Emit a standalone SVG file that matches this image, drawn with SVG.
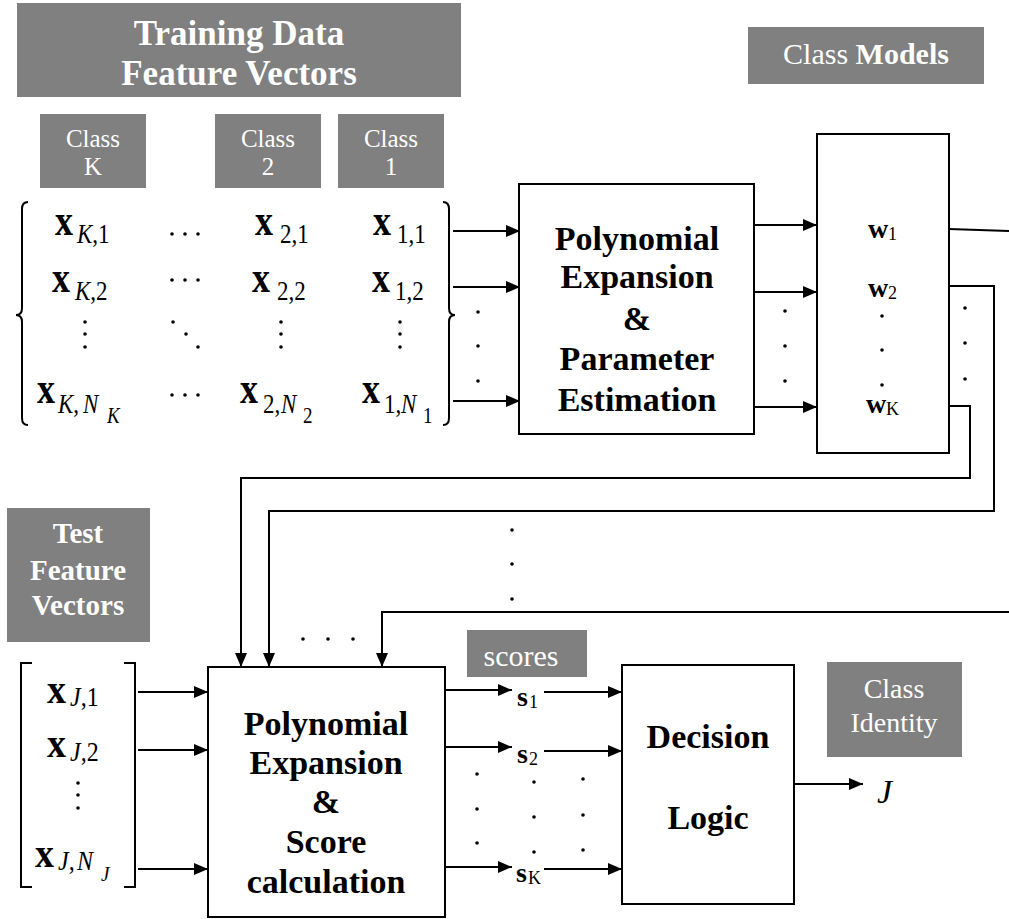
<svg xmlns="http://www.w3.org/2000/svg" width="1009" height="919" viewBox="0 0 1009 919" font-family="'Liberation Serif', 'Times New Roman', Tinos, 'DejaVu Serif', serif">
<style>
text{font-family:"Liberation Serif","Times New Roman",Tinos,"DejaVu Serif",serif;fill:#000}
.lbl{fill:#ffffff}
.gray{fill:#808080}
.box{fill:#fff;stroke:#000;stroke-width:2}
.b{font-weight:bold}
.it{font-style:italic}
.big{font-size:34px;font-weight:bold;text-anchor:middle}
.ln{fill:none;stroke:#000;stroke-width:2}
.ar{fill:none;stroke:#000;stroke-width:2;marker-end:url(#ah)}
.mx{font-size:36px;font-weight:bold}
.ms{font-size:23px}
.mss{font-size:19px}
.tx{font-size:38px;font-weight:bold}
.ts{font-size:24px}
.tss{font-size:19px}
</style>
<defs>
<marker id="ah" markerUnits="userSpaceOnUse" markerWidth="14" markerHeight="12" refX="14" refY="6" orient="auto"><path d="M0,0 L14,6 L0,12 z" fill="#000"/></marker>
</defs>
<rect width="1009" height="919" fill="#fff"/>

<g id="training-label">
<rect class="gray" x="17" y="3" width="444" height="94"/>
<text class="lbl b" x="239" y="45" font-size="35" text-anchor="middle">Training Data</text>
<text class="lbl b" x="239" y="85" font-size="35" text-anchor="middle">Feature Vectors</text>
</g>
<g id="class-models-label">
<rect class="gray" x="748" y="27" width="236" height="57"/>
<text class="lbl" x="866" y="64" font-size="30" text-anchor="middle">Class <tspan class="b">Models</tspan></text>
</g>
<g id="class-k-label">
<rect class="gray" x="40" y="114" width="106" height="74"/>
<text class="lbl" x="93" y="147" font-size="25" text-anchor="middle">Class</text>
<text class="lbl" x="93" y="175" font-size="25" text-anchor="middle">K</text>
</g>
<g id="class-2-label">
<rect class="gray" x="215" y="114" width="106" height="74"/>
<text class="lbl" x="268" y="147" font-size="25" text-anchor="middle">Class</text>
<text class="lbl" x="268" y="175" font-size="25" text-anchor="middle">2</text>
</g>
<g id="class-1-label">
<rect class="gray" x="338" y="114" width="106" height="74"/>
<text class="lbl" x="391" y="147" font-size="25" text-anchor="middle">Class</text>
<text class="lbl" x="391" y="175" font-size="25" text-anchor="middle">1</text>
</g>

<g id="training-matrix">
<path class="ln" stroke-width="1.5" d="M28,202 Q22,202 22,209 L22,308 Q22,315 16,315 Q22,315 22,322 L22,418 Q22,425 28,425"/>
<path class="ln" stroke-width="1.5" d="M443,202 Q449,202 449,209 L449,308 Q449,315 455,315 Q449,315 449,322 L449,418 Q449,425 443,425"/>
<g transform="translate(0,235) scale(1,1.22)">
<text class="mx" x="55" y="0">x</text><text class="ms" x="77" y="6.5"><tspan class="it">K</tspan>,1</text>
<text class="mx" x="255" y="0">x</text><text class="ms" x="280" y="6.5">2,1</text>
<text class="mx" x="373" y="0">x</text><text class="ms" x="397" y="6.5">1,1</text>
</g>
<g transform="translate(0,292) scale(1,1.22)">
<text class="mx" x="52" y="0">x</text><text class="ms" x="75" y="6.5"><tspan class="it">K</tspan>,2</text>
<text class="mx" x="252" y="0">x</text><text class="ms" x="277" y="6.5">2,2</text>
<text class="mx" x="372" y="0">x</text><text class="ms" x="395" y="6.5">1,2</text>
</g>
<g transform="translate(0,403) scale(1,1.22)">
<text class="mx" x="37" y="0">x</text><text class="ms" x="58" y="8.2"><tspan class="it">K</tspan>,</text><text class="ms it" x="83" y="8.2">N</text><text class="mss it" x="107" y="16">K</text>
<text class="mx" x="240" y="0">x</text><text class="ms" x="263" y="8.2">2,</text><text class="ms it" x="281" y="8.2">N</text><text class="mss" x="303" y="16">2</text>
<text class="mx" x="362" y="0">x</text><text class="ms" x="384" y="8.2">1,</text><text class="ms it" x="401" y="8.2">N</text><text class="mss" x="423" y="16">1</text>
</g>
<g fill="#000">
<circle cx="172" cy="234" r="1.8"/><circle cx="185" cy="234" r="1.8"/><circle cx="198" cy="234" r="1.8"/>
<circle cx="172" cy="280" r="1.8"/><circle cx="185" cy="280" r="1.8"/><circle cx="198" cy="280" r="1.8"/>
<circle cx="172" cy="395" r="1.8"/><circle cx="185" cy="395" r="1.8"/><circle cx="198" cy="395" r="1.8"/>
<circle cx="85" cy="322" r="1.8"/><circle cx="85" cy="334" r="1.8"/><circle cx="85" cy="347" r="1.8"/>
<circle cx="281" cy="322" r="1.8"/><circle cx="281" cy="334" r="1.8"/><circle cx="281" cy="347" r="1.8"/>
<circle cx="400" cy="322" r="1.8"/><circle cx="400" cy="334" r="1.8"/><circle cx="400" cy="347" r="1.8"/>
<circle cx="173" cy="322" r="1.8"/><circle cx="186" cy="334" r="1.8"/><circle cx="198" cy="347" r="1.8"/>
</g>
</g>

<g id="poly-param">
<rect class="box" x="519" y="184" width="235" height="250"/>
<text class="big" x="637" y="250">Polynomial</text>
<text class="big" x="637" y="288">Expansion</text>
<text class="big" x="637" y="330">&amp;</text>
<text class="big" x="637" y="370">Parameter</text>
<text class="big" x="637" y="411">Estimation</text>
</g>

<g id="class-models">
<rect class="box" x="817" y="134" width="132" height="319"/>
<text x="868" y="238" font-size="28" class="b">w</text><text x="888" y="240" font-size="18">1</text>
<text x="868" y="297" font-size="28" class="b">w</text><text x="888" y="299" font-size="18">2</text>
<text x="866" y="413" font-size="28" class="b">w</text><text x="886" y="415" font-size="18">K</text>
<g fill="#000"><circle cx="882" cy="316" r="1.8"/><circle cx="882" cy="350" r="1.8"/><circle cx="882" cy="385" r="1.8"/></g>
</g>

<g id="test-label">
<rect class="gray" x="7" y="508" width="143" height="134"/>
<text class="lbl b" x="78" y="543" font-size="29" text-anchor="middle">Test</text>
<text class="lbl b" x="78" y="580" font-size="29" text-anchor="middle">Feature</text>
<text class="lbl b" x="78" y="615" font-size="29" text-anchor="middle">Vectors</text>
</g>

<g id="test-matrix">
<path class="ln" stroke-width="1.5" d="M32,663 L21,663 L21,887 L32,887"/>
<path class="ln" stroke-width="1.5" d="M124,663 L135,663 L135,887 L124,887"/>
<g transform="translate(0,703) scale(1,1.1)">
<text class="tx" x="47" y="0">x</text><text class="ts" x="70" y="3"><tspan class="it">J</tspan>,1</text>
</g>
<g transform="translate(0,757) scale(1,1.1)">
<text class="tx" x="47" y="0">x</text><text class="ts" x="70" y="4"><tspan class="it">J</tspan>,2</text>
</g>
<g transform="translate(0,867) scale(1,1.1)">
<text class="tx" x="35" y="0">x</text><text class="ts" x="58" y="3"><tspan class="it">J</tspan>,</text><text class="ts it" x="77" y="3">N</text><text class="tss it" x="101" y="13">J</text>
</g>
<g fill="#000"><circle cx="78" cy="783" r="1.8"/><circle cx="78" cy="795" r="1.8"/><circle cx="78" cy="808" r="1.8"/></g>
</g>

<g id="poly-score">
<rect class="box" x="208" y="667" width="237" height="250"/>
<text class="big" x="326" y="735">Polynomial</text>
<text class="big" x="326" y="774">Expansion</text>
<text class="big" x="326" y="813">&amp;</text>
<text class="big" x="326" y="853">Score</text>
<text class="big" x="326" y="893">calculation</text>
</g>

<g id="scores-label">
<rect class="gray" x="467" y="630" width="120" height="47"/>
<text class="lbl" x="521" y="666" font-size="30" text-anchor="middle">scores</text>
</g>

<g id="scores">
<text x="517" y="706" font-size="28" class="b">s</text><text x="529" y="708" font-size="18">1</text>
<text x="517" y="763" font-size="28" class="b">s</text><text x="529" y="765" font-size="18">2</text>
<text x="516" y="882" font-size="28" class="b">s</text><text x="528" y="884" font-size="18">K</text>
</g>

<g id="decision">
<rect class="box" x="622" y="665" width="172" height="239"/>
<text class="big" x="708" y="748">Decision</text>
<text class="big" x="708" y="829">Logic</text>
</g>

<g id="class-identity-label">
<rect class="gray" x="827" y="662" width="135" height="95"/>
<text class="lbl" x="894" y="698" font-size="28" text-anchor="middle">Class</text>
<text class="lbl" x="894" y="732" font-size="28" text-anchor="middle">Identity</text>
</g>

<g id="output-j">
<text x="877" y="803" font-size="34" class="it">J</text>
</g>

<g id="connectors">
<line class="ar" x1="453" y1="231" x2="520" y2="231"/>
<line class="ar" x1="453" y1="287" x2="520" y2="287"/>
<line class="ar" x1="453" y1="401" x2="520" y2="401"/>
<line class="ar" x1="754" y1="225" x2="817" y2="225"/>
<line class="ar" x1="754" y1="292" x2="817" y2="292"/>
<line class="ar" x1="754" y1="407" x2="817" y2="407"/>
<polyline class="ln" points="949,229 1009,231"/>
<polyline class="ar" points="949,286 994,286 994,511 269,511 269,667"/>
<polyline class="ar" points="949,406 970,406 970,478 241,478 241,667"/>
<polyline class="ar" points="1009,612 382,612 382,667"/>
<line class="ar" x1="138" y1="692" x2="208" y2="692"/>
<line class="ar" x1="138" y1="750" x2="208" y2="750"/>
<line class="ar" x1="138" y1="869" x2="208" y2="869"/>
<line class="ar" x1="445" y1="690" x2="512" y2="690"/>
<line class="ar" x1="445" y1="747" x2="512" y2="747"/>
<line class="ar" x1="445" y1="867" x2="512" y2="867"/>
<line class="ar" x1="544" y1="692" x2="622" y2="692"/>
<line class="ar" x1="544" y1="751" x2="622" y2="751"/>
<line class="ar" x1="544" y1="869" x2="622" y2="869"/>
<line class="ar" x1="794" y1="784" x2="863" y2="784"/>
<g fill="#000">
<circle cx="478" cy="312" r="1.8"/><circle cx="478" cy="346" r="1.8"/><circle cx="478" cy="381" r="1.8"/>
<circle cx="785" cy="311" r="1.8"/><circle cx="785" cy="346" r="1.8"/><circle cx="785" cy="381" r="1.8"/>
<circle cx="965" cy="308" r="1.8"/><circle cx="965" cy="343" r="1.8"/><circle cx="965" cy="379" r="1.8"/>
<circle cx="512" cy="530" r="1.8"/><circle cx="512" cy="564" r="1.8"/><circle cx="512" cy="599" r="1.8"/>
<circle cx="303" cy="639" r="1.8"/><circle cx="328" cy="639" r="1.8"/><circle cx="353" cy="639" r="1.8"/>
<circle cx="477" cy="774" r="1.8"/><circle cx="477" cy="809" r="1.8"/><circle cx="477" cy="843" r="1.8"/>
<circle cx="534" cy="782" r="1.8"/><circle cx="534" cy="817" r="1.8"/><circle cx="534" cy="852" r="1.8"/>
<circle cx="583" cy="779" r="1.8"/><circle cx="583" cy="815" r="1.8"/><circle cx="583" cy="850" r="1.8"/>
</g>
</g>
</svg>
